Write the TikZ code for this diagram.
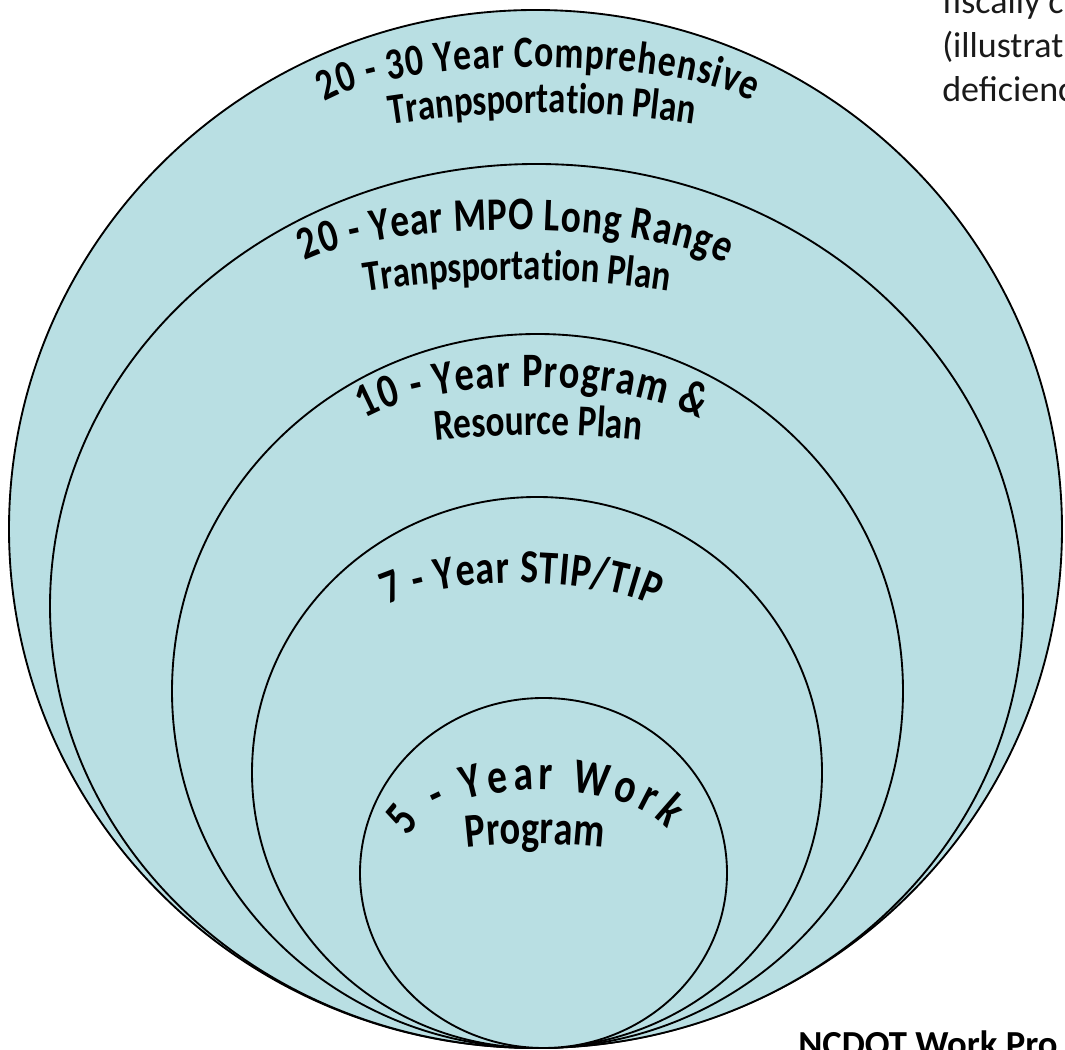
\documentclass[tikz,border=0pt]{standalone}
\usepackage{fontspec}
\setmainfont{Carlito}
\newfontfamily\wafont{Carlito}[FakeStretch=0.8]
\usetikzlibrary{decorations.text,calc}
\definecolor{planblue}{HTML}{B9DFE3}
\definecolor{notegray}{HTML}{1A1A1A}
\tikzset{
  plan/.style={draw=black, line width=1.4pt, fill=planblue},
  note/.style={anchor=base west, inner sep=0pt, text=notegray, font=\fontsize{27pt}{33pt}\selectfont},
}
% #1 cx px, #2 cy px (y down), #3 rx, #4 ry, #5 start angle, #6 end angle, #7 font size, #8 align, #9 text
\newcommand\arctext[9]{%
  \path[decorate,decoration={text along path,text align={#8},
    text={|\wafont\bfseries\fontsize{#7}{#7}\selectfont|#9}}]
    ($(#1,1050-#2)+(#5:#3 and #4)$) arc[start angle=#5,end angle=#6,x radius=#3,y radius=#4];}
\begin{document}
\begin{tikzpicture}[x=0.75pt,y=0.75pt]
\useasboundingbox (0,0) rectangle (1065,1050);
\clip (0,0) rectangle (1065,1050);
% nested plans
\draw[plan] (535.5,521) ellipse [x radius=526.5, y radius=519];
\draw[plan] (536.5,444) ellipse [x radius=486.5, y radius=442];
\draw[plan] (537.5,359) ellipse [x radius=365.5, y radius=357];
\draw[plan] (537,277.5) ellipse [x radius=285, y radius=275.5];
\draw[plan] (543.5,177) ellipse [x radius=183.5, y radius=175];
% labels
\arctext{538}{122}{230}{55}{158}{21.5}{33.5pt}{fit to path}{20 - 30 Year Comprehensive}
\arctext{542}{1113}{1000}{1000}{100}{80}{32.5pt}{center}{Tranpsportation Plan}
\arctext{512}{285}{230}{55}{154.2}{22.2}{35pt}{fit to path}{20 - Year MPO Long Range}
\arctext{517}{1280}{1000}{1000}{100}{80}{32.5pt}{center}{Tranpsportation Plan}
\arctext{532}{447}{190}{60}{151.5}{27.8}{36pt}{fit to path}{10 - Year Program {\&}}
\arctext{538}{1435}{1000}{1000}{100}{80}{33pt}{center}{Resource Plan}
\arctext{520}{633}{160}{50}{145.6}{32.5}{35.5pt}{fit to path}{7 - Year STIP/TIP}
\arctext{540}{850}{135}{60}{168}{20}{37pt}{fit to path}{5 - Year Work}
\arctext{535}{1444}{600}{600}{100}{80}{36pt}{center}{Program}
% side texts
\node[note] (note1) at (942,1036) {fiscally c};
\node[note] (note2) at (942,992) {(illustrat};
\node[note] (note3) at (942,948) {deficienc};
\node[anchor=base west, inner sep=0pt, font=\bfseries\fontsize{27.5pt}{30pt}\selectfont] (caption) at (798,-7) {NCDOT Work Pro};
\end{tikzpicture}
\end{document}
